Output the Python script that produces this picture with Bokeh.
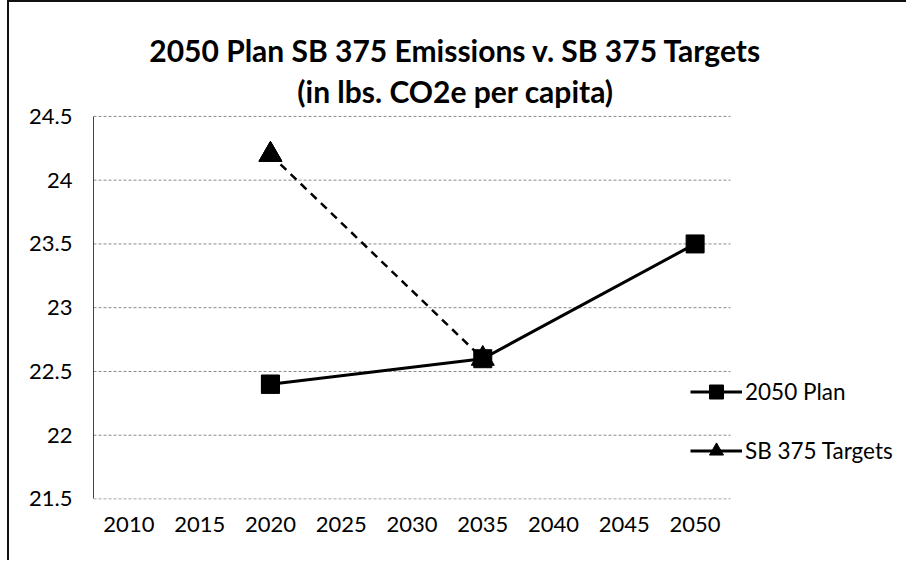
from bokeh.plotting import figure
from bokeh.models import ColumnDataSource, Legend, LegendItem, Label, CDSView, IndexFilter, Range1d
from bokeh.embed import file_html
from bokeh.resources import INLINE

# ---- data ----
years = [2010, 2015, 2020, 2025, 2030, 2035, 2040, 2045, 2050]
x_tick_labels = ["2010", "2015", "2020", "2025", "2030", "2035", "2040", "2045", "2050"]
plan_years = [2020, 2035, 2050]
plan_values = [22.4, 22.6, 23.5]
target_years = [2020, 2035]
target_values = [24.2, 22.6]
y_ticks = [21.5, 22.0, 22.5, 23.0, 23.5, 24.0, 24.5]
y_tick_labels = ["21.5", "22", "22.5", "23", "23.5", "24", "24.5"]
title_lines = ["2050 Plan SB 375 Emissions v. SB 375 Targets", "(in lbs. CO2e per capita)"]
series_names = ["2050 Plan", "SB 375 Targets"]

FONT = "Lato"
STEP = years[1] - years[0]
X0, X1 = years[0] - STEP / 2, years[-1] + STEP / 2      # category-style padding
Y0, Y1 = y_ticks[0], y_ticks[-1]
PLOT_W, PLOT_H = 637, 383                                 # pixel size of the plotting area
# frame is widened to the right / top so the legend and title (outside the plot area) are not clipped
EXTRA_R, EXTRA_T = 170, 104
xr_end = X1 + (X1 - X0) * EXTRA_R / PLOT_W
yr_end = Y1 + (Y1 - Y0) * EXTRA_T / PLOT_H
W, H = 899, 560
BL = 84   # left border (page x of plot area = 93)
BT = 114 - EXTRA_T

p = figure(width=W, height=H, output_backend="svg", toolbar_location=None,
           x_range=Range1d(X0, xr_end), y_range=Range1d(Y0 - 0.004, yr_end),
           min_border_left=BL, min_border_right=W - BL - PLOT_W - EXTRA_R,
           min_border_top=BT, min_border_bottom=H - BT - EXTRA_T - PLOT_H)
p.outline_line_color = None
p.background_fill_color = "white"
p.border_fill_color = "white"
p.styles = {"border-left": "2px solid #111", "border-top": "2px solid #111", "margin-left": "7px"}

# grid (drawn over the plot area only)
p.xgrid.visible = False
p.ygrid.visible = False
grid_src = ColumnDataSource(dict(y=y_ticks, x0=[X0] * len(y_ticks), x1=[X1] * len(y_ticks)))
p.segment(x0="x0", x1="x1", y0="y", y1="y", source=grid_src, line_color="#8a8a8a",
          line_width=1, line_dash="3 2")

# axes
p.xaxis.ticker = years
p.xaxis.major_label_overrides = dict(zip(years, x_tick_labels))
p.yaxis.ticker = y_ticks
p.yaxis.major_label_overrides = dict(zip(y_ticks, y_tick_labels))
p.yaxis.bounds = (Y0, Y1)
for ax in (p.xaxis, p.yaxis):
    ax.major_tick_line_color = None
    ax.minor_tick_line_color = None
    ax.major_tick_out = 0
    ax.major_tick_in = 0
    ax.major_label_text_font = FONT
    ax.major_label_text_font_size = "22px"
    ax.major_label_text_color = "black"
p.xaxis.axis_line_color = None
p.xaxis.major_label_standoff = 17
p.yaxis.axis_line_color = "#444444"
p.yaxis.axis_line_width = 1
p.yaxis.major_label_standoff = 21

# series
src_plan = ColumnDataSource(dict(x=plan_years, y=plan_values))
src_t = ColumnDataSource(dict(x=target_years, y=target_values))

p.line("x", "y", source=src_plan, line_color="black", line_width=3)
p.scatter("x", "y", source=src_plan, marker="square", size=18, fill_color="black", line_color="black")
p.line("x", "y", source=src_t, line_color="black", line_width=2.5, line_dash="8 6")
p.scatter("x", "y", source=src_t, marker="triangle", size=23, fill_color="black", line_color="black")

# legend renderers (same data; their only drawn point coincides with the first marker)
lg1 = p.line("x", "y", source=src_plan, view=CDSView(filter=IndexFilter([0])), line_color="black", line_width=3)
lm1 = p.scatter("x", "y", source=src_plan, view=CDSView(filter=IndexFilter([0])), marker="square",
                size=18, fill_color="black", line_color="black")
lg2 = p.line("x", "y", source=src_t, view=CDSView(filter=IndexFilter([0])), line_color="black", line_width=3)
lm2 = p.scatter("x", "y", source=src_t, view=CDSView(filter=IndexFilter([0])), marker="triangle",
                size=23, fill_color="black", line_color="black")

legend = Legend(items=[LegendItem(label=series_names[0], renderers=[lg1, lm1]),
                       LegendItem(label=series_names[1], renderers=[lg2, lm2])],
                location=(597, 31), padding=0, margin=0, spacing=24,
                glyph_width=52, glyph_height=35, label_standoff=3,
                label_text_font=FONT, label_text_font_size="22.5px", label_text_color="black",
                background_fill_alpha=0, border_line_color=None)
p.add_layout(legend)

# title
p.add_layout(Label(x=362, y=450, x_units="screen", y_units="screen", text=title_lines[0],
                   text_align="center", text_baseline="middle", text_font=FONT,
                   text_font_style="bold", text_font_size="30px", text_color="black"))
p.add_layout(Label(x=362, y=409, x_units="screen", y_units="screen", text=title_lines[1],
                   text_align="center", text_baseline="middle", text_font=FONT,
                   text_font_style="bold", text_font_size="30px", text_color="black"))

open("out.html", "w").write(file_html(p, INLINE))
